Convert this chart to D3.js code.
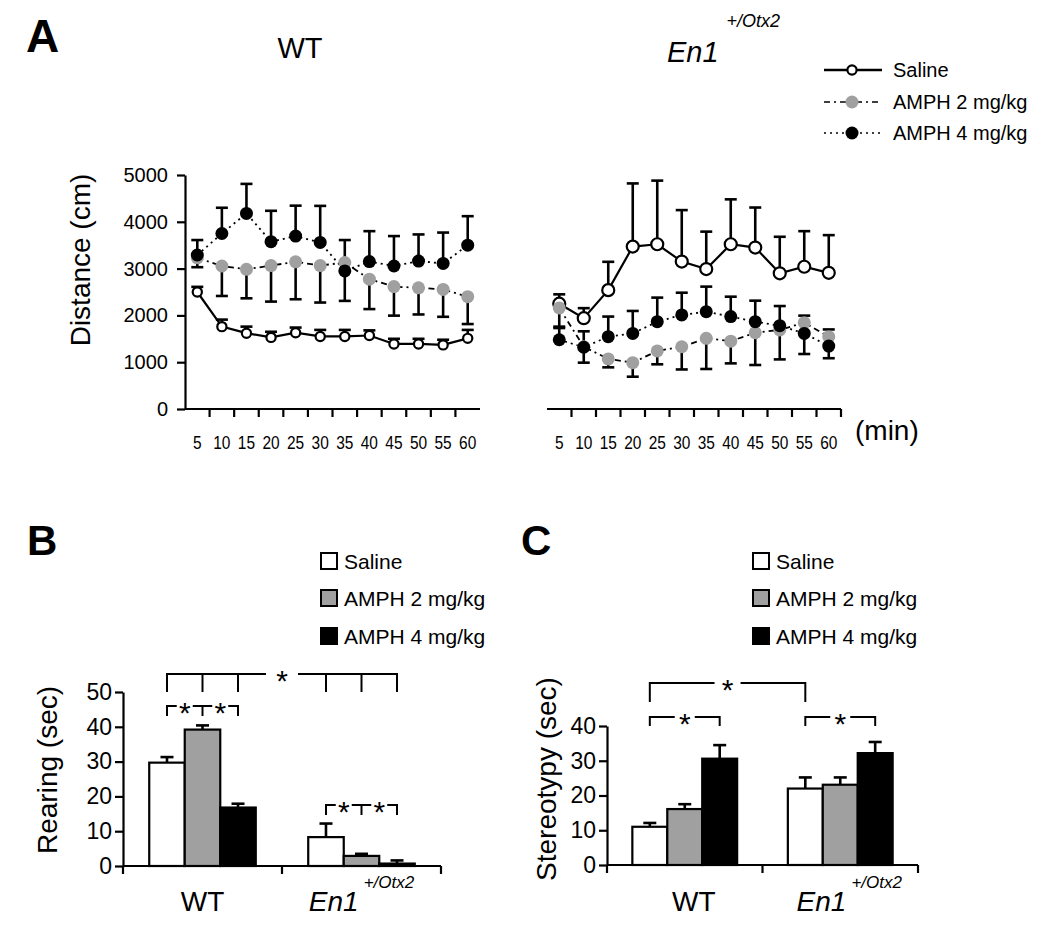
<!DOCTYPE html>
<html><head><meta charset="utf-8">
<script src="https://cdnjs.cloudflare.com/ajax/libs/d3/7.8.5/d3.min.js"></script>
<style>body{margin:0;background:#fff}</style>
</head><body>
<script>
// ---------------- DATA ----------------
const times = [5,10,15,20,25,30,35,40,45,50,55,60];
const seriesNames = ["Saline","AMPH 2 mg/kg","AMPH 4 mg/kg"];
// Panel A, WT
const wtSaline    = [2500,1760,1620,1530,1630,1550,1550,1570,1390,1390,1370,1510];
const wtSalineErr = [110,150,140,120,110,140,140,110,110,110,110,180];
const wtAmph2     = [3230,3055,2985,3065,3145,3065,3130,2775,2615,2590,2555,2400];
const wtAmph2Err  = [200,640,620,770,800,790,820,640,620,570,585,585];
const wtAmph4     = [3290,3750,4180,3575,3695,3560,2950,3150,3055,3160,3110,3500];
const wtAmph4Err  = [320,550,630,660,650,780,660,650,640,570,660,620];
// Panel A, En1+/Otx2
const enSaline    = [2250,1940,2540,3470,3520,3150,2990,3520,3450,2900,3040,2910];
const enSalineErr = [200,215,605,1350,1360,1100,800,960,855,780,760,805];
const enAmph2     = [2160,1330,1070,990,1240,1330,1510,1450,1630,1690,1845,1545];
const enAmph2Err  = [400,340,180,300,285,485,655,475,690,630,670,460];
const enAmph4     = [1480,1320,1545,1615,1865,2010,2080,1975,1865,1780,1615,1345];
const enAmph4Err  = [250,340,430,480,515,475,535,425,450,420,380,355];
const distTicks = [0,1000,2000,3000,4000,5000];
// Panels B, C
const groups = ["WT","En1"];
const rearingWT = [29.7,39.2,16.8],  rearingWTErr = [1.6,1.2,1.1];
const rearingEn = [8.3,2.9,0.7],     rearingEnErr = [3.9,0.6,0.9];
const stereoWT  = [11.0,16.1,30.6],  stereoWTErr  = [1.1,1.4,3.9];
const stereoEn  = [22.0,23.1,32.2],  stereoEnErr  = [3.2,2.1,3.2];
const rearingTicks = [0,10,20,30,40,50];
const stereoTicks  = [0,10,20,30,40];

// ---------------- SETUP ----------------
const FF = "'Liberation Sans', Arial, Helvetica, sans-serif";
const GRAY = "#a0a0a0";
const svg = d3.select("body").append("svg").attr("width",1050).attr("height",927)
  .style("font-family",FF);

function txt(x,y,s,size,opts={}){
  const t = svg.append("text").attr("x",x).attr("y",y).text(s)
    .attr("font-size",size).attr("fill","#000");
  if(opts.anchor) t.attr("text-anchor",opts.anchor);
  if(opts.weight) t.attr("font-weight",opts.weight);
  if(opts.italic) t.attr("font-style","italic");
  return t;
}
function supLabel(x,y,size,supSize,dx,dy,anchor){
  const t = svg.append("text").attr("x",x).attr("y",y).attr("text-anchor",anchor||"start")
    .attr("font-style","italic").attr("fill","#000");
  t.append("tspan").attr("font-size",size).text("En1");
  t.append("tspan").attr("font-size",supSize).attr("dx",dx).attr("dy",dy).text("+/Otx2");
  return t;
}
function vlabel(x,y,s,size){
  svg.append("text").attr("transform",`translate(${x},${y}) rotate(-90)`)
    .attr("text-anchor","middle").attr("font-size",size).text(s);
}

// ---------------- PANEL A ----------------
txt(26,52,"A",46,{weight:"bold"});
txt(300,58,"WT",29,{anchor:"middle"});
supLabel(667,62,29,18,8,-35);

const yA = d3.scaleLinear().domain([0,5000]).range([409,175]);
const xAL = d3.scaleBand().domain(times).range([185,480]);
const xAR = d3.scaleBand().domain(times).range([547,841]);

// y axis (left panel)
const gy = svg.append("g").attr("transform","translate(185,0)")
  .call(d3.axisLeft(yA).tickValues(distTicks).tickSize(8).tickSizeOuter(0).tickPadding(9).tickFormat(d3.format("d")));
gy.select(".domain").attr("stroke-width",2.2);
gy.selectAll(".tick line").attr("stroke-width",2.2);
gy.selectAll(".tick text").attr("font-size",20).attr("font-family",FF);
vlabel(90,260,"Distance (cm)",28);

function timeAxis(x, ticksAtRight){
  const y0 = yA(0);
  const r = x.range();
  svg.append("line").attr("x1",r[0]).attr("x2",r[1]).attr("y1",y0).attr("y2",y0)
    .attr("stroke","#000").attr("stroke-width",2.2);
  times.forEach((t,i)=>{
    const tx = ticksAtRight ? x(t)+x.bandwidth() : x(t);
    if(ticksAtRight || i>0){
      svg.append("line").attr("x1",tx).attr("x2",tx).attr("y1",y0).attr("y2",y0+8)
        .attr("stroke","#000").attr("stroke-width",2.2);
    }
    const s = String(t);
    svg.append("text").attr("x",x(t)+x.bandwidth()/2).attr("y",449).attr("text-anchor","middle")
      .attr("font-size",18).attr("textLength",s.length*8.6).attr("lengthAdjust","spacingAndGlyphs").text(s);
  });
}
timeAxis(xAL,false);
timeAxis(xAR,true);
txt(855,440,"(min)",28);

const styles = [
  {fill:"#fff", dash:null, dir:-1},
  {fill:GRAY, dash:"6,4,2,4", dir:1},
  {fill:"#000", dash:"2,4", dir:-1}
];

function drawSeries(x, sets, openR){
  const cx = t => x(t)+x.bandwidth()/2;
  // error bars
  sets.forEach((s,k)=>{
    const st = styles[k];
    s.v.forEach((v,i)=>{
      const e = v + (st.dir<0 ? s.e[i] : -s.e[i]);
      const X = cx(times[i]);
      svg.append("line").attr("x1",X).attr("x2",X).attr("y1",yA(v)).attr("y2",yA(e))
        .attr("stroke","#000").attr("stroke-width",2.6);
      svg.append("line").attr("x1",X-6).attr("x2",X+6).attr("y1",yA(e)).attr("y2",yA(e))
        .attr("stroke","#000").attr("stroke-width",2.6);
    });
  });
  // lines
  sets.forEach((s,k)=>{
    const st = styles[k];
    const line = d3.line().x((v,i)=>cx(times[i])).y(v=>yA(v));
    const p = svg.append("path").attr("d",line(s.v)).attr("fill","none").attr("stroke","#000")
      .attr("stroke-width", k===0?2.2:1.8);
    if(st.dash) p.attr("stroke-dasharray",st.dash);
  });
  // markers
  sets.forEach((s,k)=>{
    const st = styles[k];
    s.v.forEach((v,i)=>{
      const c = svg.append("circle").attr("cx",cx(times[i])).attr("cy",yA(v))
        .attr("fill",st.fill);
      if(k===0) c.attr("r",openR).attr("stroke","#000").attr("stroke-width",2.2);
      else c.attr("r",6.5);
    });
  });
}
drawSeries(xAL,[{v:wtSaline,e:wtSalineErr},{v:wtAmph2,e:wtAmph2Err},{v:wtAmph4,e:wtAmph4Err}],4.6);
drawSeries(xAR,[{v:enSaline,e:enSalineErr},{v:enAmph2,e:enAmph2Err},{v:enAmph4,e:enAmph4Err}],6);

// Legend A
const legY = [70,102,133];
seriesNames.forEach((n,k)=>{
  const st = styles[k], y = legY[k];
  const l = svg.append("line").attr("x1",824).attr("x2",882).attr("y1",y).attr("y2",y)
    .attr("stroke","#000").attr("stroke-width",k===0?2.4:1.6);
  if(st.dash) l.attr("stroke-dasharray",st.dash);
  const c = svg.append("circle").attr("cx",852).attr("cy",y).attr("fill",st.fill);
  if(k===0) c.attr("r",4.6).attr("stroke","#000").attr("stroke-width",2.2); else c.attr("r",6.5);
  txt(893,y+7,n,20);
});

// ---------------- BAR PANELS ----------------
const barFill = ["#fff",GRAY,"#000"];
function barPanel(cfg){
  const y = d3.scaleLinear().domain([0,cfg.max]).range([cfg.y0,cfg.yTop]);
  const x0 = d3.scaleBand().domain(groups).range([cfg.xl,cfg.xr]);
  const bw0 = x0.bandwidth();
  const x1 = d3.scaleBand().domain(seriesNames).range([bw0*cfg.inset,bw0*(1-cfg.inset)]);
  const data = [{g:"WT",v:cfg.wt,e:cfg.wtE},{g:"En1",v:cfg.en,e:cfg.enE}];
  const center = (g,k)=>x0(g)+x1(seriesNames[k])+x1.bandwidth()/2;
  data.forEach(d=>{
    d.v.forEach((v,k)=>{
      const X = center(d.g,k), top = y(v+d.e[k]);
      svg.append("line").attr("x1",X).attr("x2",X).attr("y1",y(v)).attr("y2",top)
        .attr("stroke","#000").attr("stroke-width",2.6);
      svg.append("line").attr("x1",X-6.5).attr("x2",X+6.5).attr("y1",top).attr("y2",top)
        .attr("stroke","#000").attr("stroke-width",2.6);
    });
    d.v.forEach((v,k)=>{
      svg.append("rect").attr("x",x0(d.g)+x1(seriesNames[k])).attr("width",x1.bandwidth())
        .attr("y",y(v)).attr("height",y(0)-y(v))
        .attr("fill",barFill[k]).attr("stroke","#000").attr("stroke-width",2.2);
    });
  });
  // y axis
  const g = svg.append("g").attr("transform",`translate(${cfg.xl},0)`)
    .call(d3.axisLeft(y).tickValues(cfg.ticks).tickSize(8).tickSizeOuter(0).tickPadding(3));
  g.select(".domain").attr("stroke-width",2.2);
  g.selectAll(".tick line").attr("stroke-width",2.2);
  g.selectAll(".tick text").attr("font-size",23).attr("font-family",FF);
  // x axis with ticks at group edges
  svg.append("line").attr("x1",cfg.xl).attr("x2",cfg.xr).attr("y1",y(0)).attr("y2",y(0))
    .attr("stroke","#000").attr("stroke-width",2.2);
  [x0("WT"),x0("En1"),x0("En1")+bw0].forEach(t=>{
    svg.append("line").attr("x1",t).attr("x2",t).attr("y1",y(0)).attr("y2",y(0)+8)
      .attr("stroke","#000").attr("stroke-width",2.2);
  });
  txt(x0("WT")+bw0/2+cfg.labDx,911,"WT",28,{anchor:"middle"});
  supLabel(x0("En1")+bw0/2+cfg.labDx,911,28,17,5,-23,"middle");
  vlabel(cfg.ylabX,cfg.ylabY,cfg.ylab,28);
  // legend
  seriesNames.forEach((n,k)=>{
    const ly = cfg.legY[k];
    svg.append("rect").attr("x",cfg.legX).attr("y",ly-8).attr("width",16).attr("height",16)
      .attr("fill",barFill[k]).attr("stroke","#000").attr("stroke-width",2);
    txt(cfg.legX+23,ly+8,n,21);
  });
  txt(cfg.letterX,555,cfg.letter,42,{weight:"bold"});
  // significance brackets
  cfg.brackets.forEach(b=>{
    const xs = b.pts.map(p=>center(p[0],p[1]));
    const lo = d3.min(xs), hi = d3.max(xs);
    let segs = [[lo,hi]];
    b.stars.forEach(s=>{
      const sx = (center(...s.between[0])+center(...s.between[1]))/2;
      s.x = sx;
      const nsegs = [];
      segs.forEach(([a,c])=>{
        if(sx-s.gap>a) nsegs.push([a,Math.min(c,sx-s.gap)]);
        if(sx+s.gap<c) nsegs.push([Math.max(a,sx+s.gap),c]);
      });
      segs = nsegs;
    });
    segs.forEach(([a,c])=>svg.append("line").attr("x1",a).attr("x2",c).attr("y1",b.y).attr("y2",b.y)
      .attr("stroke","#000").attr("stroke-width",2));
    xs.forEach(X=>svg.append("line").attr("x1",X).attr("x2",X).attr("y1",b.y-1).attr("y2",b.y+b.drop)
      .attr("stroke","#000").attr("stroke-width",2));
    b.stars.forEach(s=>txt(s.x,b.y+17,"*",30,{anchor:"middle"}));
  });
}

barPanel({
  max:50, y0:866, yTop:692, xl:123, xr:441, inset:0.165, ticks:rearingTicks,
  wt:rearingWT, wtE:rearingWTErr, en:rearingEn, enE:rearingEnErr,
  labDx:0, ylab:"Rearing (sec)", ylabX:57, ylabY:770,
  legX:321, legY:[561,598,636], letter:"B", letterX:27,
  brackets:[
    {y:674, drop:18, pts:[["WT",0],["WT",1],["WT",2],["En1",0],["En1",1],["En1",2]],
     stars:[{between:[["WT",0],["En1",2]],gap:16}]},
    {y:706, drop:10, pts:[["WT",0],["WT",1],["WT",2]],
     stars:[{between:[["WT",0],["WT",1]],gap:8},{between:[["WT",1],["WT",2]],gap:8}]},
    {y:805, drop:10, pts:[["En1",0],["En1",1],["En1",2]],
     stars:[{between:[["En1",0],["En1",1]],gap:8},{between:[["En1",1],["En1",2]],gap:8}]}
  ]
});

barPanel({
  max:40, y0:865, yTop:726, xl:607, xr:918, inset:0.163, ticks:stereoTicks,
  wt:stereoWT, wtE:stereoWTErr, en:stereoEn, enE:stereoEnErr,
  labDx:9, ylab:"Stereotypy (sec)", ylabX:556, ylabY:779,
  legX:753, legY:[561,598,636], letter:"C", letterX:521,
  brackets:[
    {y:683, drop:19, pts:[["WT",0],["En1",0]],
     stars:[{between:[["WT",0],["En1",0]],gap:13}]},
    {y:717, drop:9, pts:[["WT",0],["WT",2]],
     stars:[{between:[["WT",0],["WT",2]],gap:10}]},
    {y:717, drop:9, pts:[["En1",0],["En1",2]],
     stars:[{between:[["En1",0],["En1",2]],gap:10}]}
  ]
});
</script>
</body></html>
